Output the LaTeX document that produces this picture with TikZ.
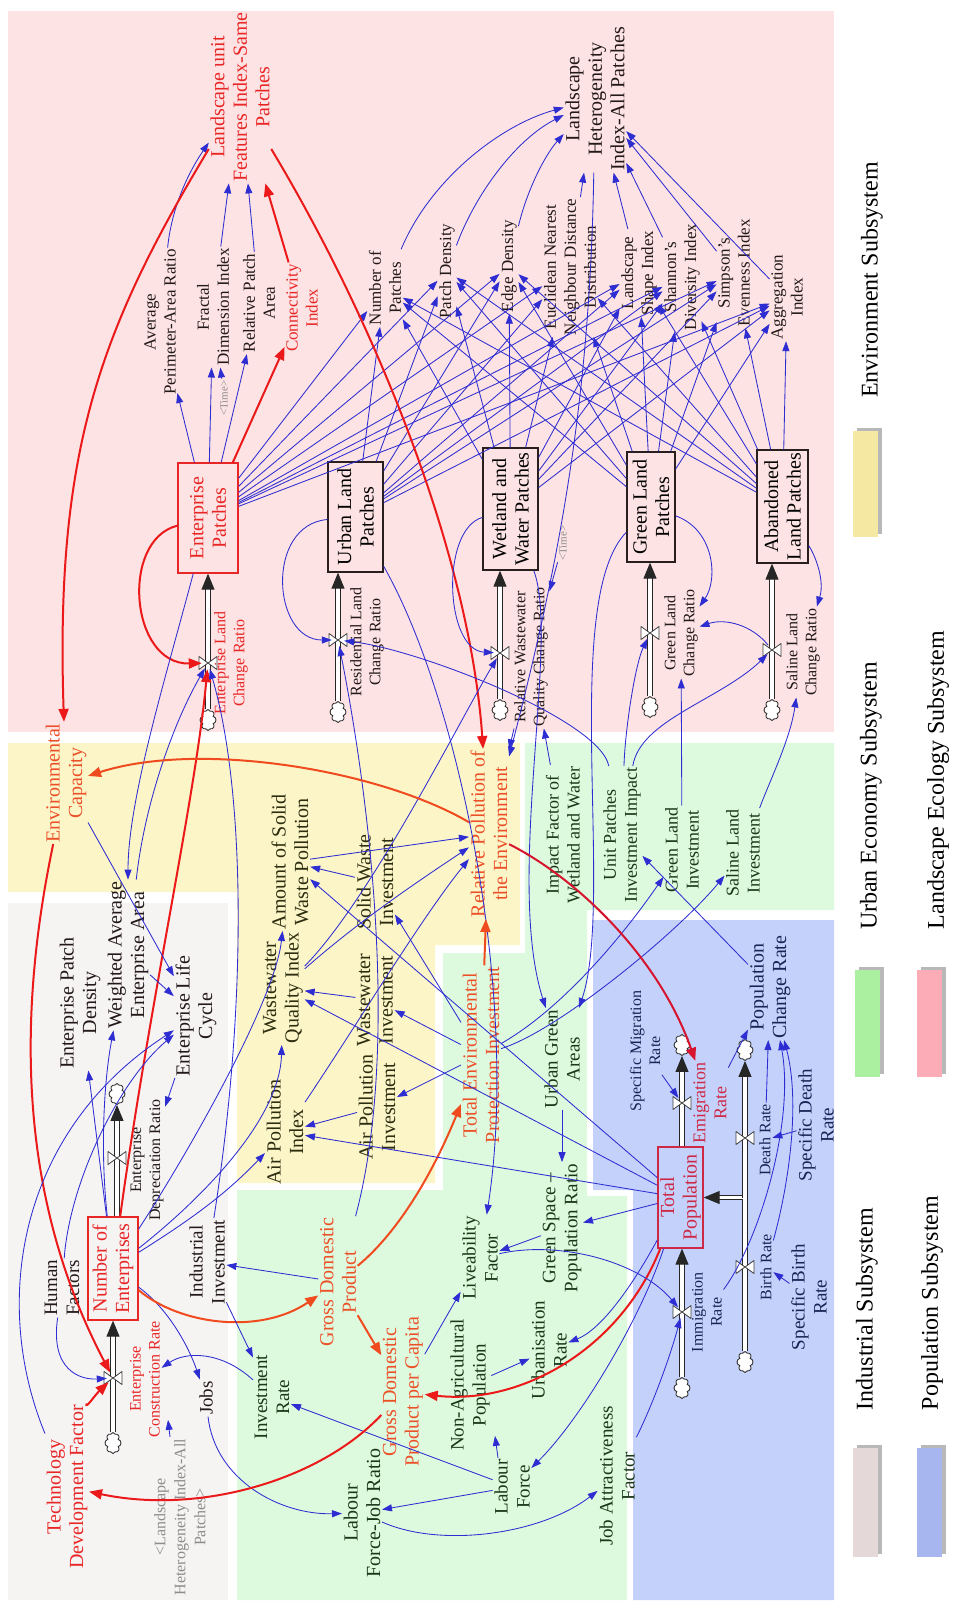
\documentclass[tikz,border=0pt]{standalone}
\usepackage{fontspec}
\setmainfont{Liberation Serif}
\usetikzlibrary{arrows.meta,shapes.symbols}

\definecolor{bgpink}{RGB}{253,227,227}
\definecolor{bgyellow}{RGB}{251,245,200}
\definecolor{bggreen}{RGB}{222,250,222}
\definecolor{bgblue}{RGB}{196,210,251}
\definecolor{bgind}{RGB}{246,243,243}
\definecolor{lgyellow}{RGB}{245,232,162}
\definecolor{lggreen}{RGB}{170,240,160}
\definecolor{lgpink}{RGB}{252,172,182}
\definecolor{lgind}{RGB}{228,216,216}
\definecolor{lgblue}{RGB}{168,182,240}
\definecolor{linkblue}{RGB}{45,45,210}
\definecolor{linkred}{RGB}{235,25,25}
\definecolor{linkorange}{RGB}{240,75,30}
\definecolor{linkcrimson}{RGB}{215,20,45}
\definecolor{txtred}{RGB}{232,38,38}
\definecolor{txtorange}{RGB}{236,80,40}
\definecolor{txtcrimson}{RGB}{205,40,70}
\definecolor{txtgray}{RGB}{140,140,140}
\definecolor{inkpink}{RGB}{35,25,25}
\definecolor{inkyellow}{RGB}{45,45,15}
\definecolor{inkgreen}{RGB}{25,55,25}
\definecolor{inkblue}{RGB}{25,35,85}
\definecolor{stockline}{RGB}{40,30,30}

\tikzset{
  lab/.style={rotate=90, align=center, inner sep=1.5pt, font=\fontsize{17}{20}\selectfont},
  labsm/.style={lab, font=\fontsize{16}{19}\selectfont},
  labmd/.style={lab, font=\fontsize{18}{21}\selectfont},
  labnn/.style={lab, font=\fontsize{19}{22}\selectfont},
  labbig/.style={lab, font=\fontsize{20}{22.5}\selectfont},
  shadowvar/.style={lab, text=txtgray, font=\fontsize{11}{13}\selectfont},
  stock/.style={rotate=90, align=center, draw=stockline, text=black, line width=1.3pt, inner sep=0pt, font=\fontsize{20}{22.5}\selectfont},
  lk/.style={draw=linkblue, line width=0.85pt, -{Triangle[length=10pt,width=7pt]}},
  rlk/.style={draw=linkred, line width=2pt, -{Triangle[length=13pt,width=10pt]}},
  olk/.style={draw=linkorange, line width=2pt, -{Triangle[length=13pt,width=10pt]}},
  clk/.style={draw=linkcrimson, line width=2pt, -{Triangle[length=13pt,width=10pt]}},
  pipein/.style={draw=black!85, line width=1pt, double=white, double distance=3.6pt, -{Triangle[length=16pt,width=13pt]}},
  valvept/.style={circle, inner sep=0pt, minimum size=12pt},
  vbow/.style={draw=black!75, fill=white, line width=0.8pt, line join=round},
  puff/.style={cloud, cloud puffs=8, cloud ignores aspect, draw=black!80, fill=white, line width=0.9pt, minimum width=16pt, minimum height=21pt, inner sep=0pt},
  legtxt/.style={rotate=90, font=\fontsize{24}{26}\selectfont, inner sep=0pt},
  legshadow/.style={fill=black!28},
}
\newcommand\drawvalve[1]{\draw[vbow] (#1.center) -- ++(-9,-6.5) -- ++(0,13) -- cycle (#1.center) -- ++(9,-6.5) -- ++(0,13) -- cycle;}

\begin{document}
\begin{tikzpicture}[x=1pt,y=-1pt]
\useasboundingbox (0,0) rectangle (954,1605);

% ---------- subsystem areas
\fill[bgpink] (8,11) rectangle (834,732);
\fill[bgyellow] (8,743) -- (520,743) -- (520,945) -- (435,945) -- (435,1183) -- (237,1183) -- (237,892) -- (8,892) -- cycle;
\fill[bgind] (8,903) rectangle (228,1600);
\fill[bggreen] (525,743) -- (834,743) -- (834,910) -- (587,910) -- (587,1196) -- (627,1196) -- (627,1600) -- (237,1600) -- (237,1190) -- (443,1190) -- (443,953) -- (525,953) -- cycle;
\fill[bgblue] (593,920) -- (834,920) -- (834,1600) -- (633,1600) -- (633,1190) -- (593,1190) -- cycle;

% ---------- legend
\fill[legshadow] (857,428) rectangle (882,534);
\fill[lgyellow] (853,431) rectangle (878,537);
\node[legtxt] (legE) at (872,280) {Environment Subsystem};
\fill[legshadow] (859,967) rectangle (884,1074);
\fill[lggreen] (855,970) rectangle (880,1077);
\node[legtxt] (legU) at (871,796) {Urban Economy Subsystem};
\fill[legshadow] (921,967) rectangle (946,1074);
\fill[lgpink] (917,970) rectangle (942,1077);
\node[legtxt] (legL) at (938,780) {Landscape Ecology Subsystem};
\fill[legshadow] (857,1445) rectangle (882,1554);
\fill[lgind] (853,1448) rectangle (878,1557);
\node[legtxt] (legI) at (867,1309) {Industrial Subsystem};
\fill[legshadow] (921,1445) rectangle (946,1554);
\fill[lgblue] (917,1448) rectangle (942,1557);
\node[legtxt] (legP) at (932,1303) {Population Subsystem};

% ---------- stocks
\node[stock, draw=txtred, text=txtred, minimum width=110pt, minimum height=60pt] (EP) at (208,518) {Enterprise\\Patches};
\node[stock, minimum width=110pt, minimum height=55pt] (ULP) at (355.5,517) {Urban Land\\Patches};
\node[stock, minimum width=122pt, minimum height=55pt] (WWP) at (510.5,509) {Wetland and\\Water Patches};
\node[stock, minimum width=110pt, minimum height=48pt] (GLP) at (651,507) {Green Land\\Patches};
\node[stock, minimum width=113pt, minimum height=51pt] (ALP) at (782.5,506.5) {Abandoned\\Land Patches};
\node[stock, draw=txtred, text=txtred, minimum width=103pt, minimum height=50pt] (NoE) at (113,1268.5) {Number of\\Enterprises};
\node[stock, draw=txtcrimson, text=txtcrimson, minimum width=101pt, minimum height=45pt] (TP) at (680.5,1197.5) {Total\\Population};

% ---------- valves and clouds
\node[valvept] (EPv) at (208,663) {};
\node[valvept] (ULv) at (338,640) {};
\node[valvept] (WWv) at (500,653) {};
\node[valvept] (GLv) at (650,633) {};
\node[valvept] (ALv) at (772,650) {};
\node[valvept] (NoEv) at (113,1378) {};
\node[valvept] (EDv) at (117,1158) {};
\node[valvept] (ERv) at (682,1103) {};
\node[valvept] (IRv) at (682,1312) {};
\node[valvept] (DRv) at (745,1138) {};
\node[valvept] (BRv) at (745,1267) {};

\node[puff] (EPcl) at (208,720) {};
\node[puff] (ULcl) at (338,712) {};
\node[puff] (WWcl) at (500,710) {};
\node[puff] (GLcl) at (650,707) {};
\node[puff] (ALcl) at (772,710) {};
\node[puff] (NoEcl) at (113,1443) {};
\node[puff] (EDcl) at (117,1094) {};
\node[puff] (ERcl) at (682,1045) {};
\node[puff] (IRcl) at (682,1388) {};
\node[puff] (DRcl) at (745,1050) {};
\node[puff] (BRcl) at (745,1362) {};

% ---------- flows
\draw[pipein] (EPcl) -- (EPv |- EP.west);
\draw[pipein] (ULcl) -- (ULv |- ULP.west);
\draw[pipein] (WWcl) -- (WWv |- WWP.west);
\draw[pipein] (GLcl) -- (GLv |- GLP.west);
\draw[pipein] (ALcl) -- (ALv |- ALP.west);
\draw[pipein] (NoEcl) -- (NoEv |- NoE.west);
\draw[pipein] (EDv |- NoE.east) -- (EDcl);
\draw[pipein] (ERv |- TP.east) -- (ERcl);
\draw[pipein] (IRcl) -- (IRv |- TP.west);
\draw[pipein] (BRcl) -- (BRv |- TP.south) -- (TP.south);
\draw[pipein] (DRv |- TP.south) -- (DRcl);
\foreach \v in {EPv,ULv,WWv,GLv,ALv,NoEv,EDv,ERv,IRv,DRv,BRv} {\drawvalve{\v}}

% ---------- landscape ecology variables
\node[labbig, text=txtred] (LUFI) at (240,97) {Landscape unit\\Features Index-Same\\Patches};
\node[lab, text=inkpink] (AvgPAR) at (160,322) {Average\\Perimeter-Area Ratio};
\node[lab, text=inkpink] (FDI) at (213,307) {Fractal\\Dimension Index};
\node[lab, text=inkpink] (RPA) at (259,303) {Relative Patch\\Area};
\node[lab, text=txtred] (CI) at (302,308) {Connectivity\\Index};
\node[shadowvar] (TimeA) at (224,398) {<Time>};
\node[labbig, text=inkpink] (LHI) at (595,99) {Landscape\\Heterogeneity\\Index-All Patches};
\node[lab, text=inkpink] (NP) at (385,288) {Number of\\Patches};
\node[lab, text=inkpink] (PD) at (447,271) {Patch Density};
\node[lab, text=inkpink] (ED) at (509,266) {Edge Density};
\node[lab, text=inkpink] (EN) at (570,267) {Euclidean Nearest\\Neighbour Distance\\Distribution};
\node[lab, text=inkpink] (LSI) at (639,273) {Landscape\\Shape Index};
\node[lab, text=inkpink] (SDI) at (682,277) {Shannon's\\Diversity Index};
\node[lab, text=inkpink] (SEI) at (734,273) {Simpson's\\Evenness Index};
\node[lab, text=inkpink] (AI) at (787,297) {Aggregation\\Index};
\node[labsm, text=txtred] (ELCR) at (231,663) {Enterprise Land\\Change Ratio};
\node[labsm, text=inkpink] (RLCR) at (367,642) {Residential Land\\Change Ratio};
\node[labsm, text=inkpink] (RWQCR) at (531,657) {Relative Wastewater\\Quality Change Ratio};
\node[labsm, text=inkpink] (GLCR) at (681,633) {Green Land\\Change Ratio};
\node[labsm, text=inkpink] (SLCR) at (803,652) {Saline Land\\Change Ratio};
\node[shadowvar] (TimeB) at (563,543) {<Time>};

% ---------- environment variables
\node[labbig, text=txtorange] (EC) at (66,783) {Environmental\\Capacity};
\node[labbig, text=txtorange] (RPE) at (489,834) {Relative Pollution of\\the Environment};
\node[labbig, text=inkyellow] (ASWP) at (290,862) {Amount of Solid\\Waste Pollution};
\node[labbig, text=inkyellow] (WQI) at (283,988) {Wastewater\\Quality Index};
\node[labbig, text=inkyellow] (APIdx) at (285,1132) {Air Pollution\\Index};
\node[labbig, text=inkyellow] (SWInv) at (375,882) {Solid Waste\\Investment};
\node[labbig, text=inkyellow] (WWInv) at (375,1000) {Wastewater\\Investment};
\node[labbig, text=inkyellow] (APInv) at (377,1107) {Air Pollution\\Investment};
\node[labbig, text=txtorange] (TEPI) at (481,1055) {Total Environmental\\Protection Investment};

% ---------- industrial variables
\node[labbig, text=inkpink] (EPD) at (80,1003) {Enterprise Patch\\Density};
\node[labbig, text=inkpink] (WAEA) at (128,955) {Weighted Average\\Enterprise Area};
\node[labbig, text=inkpink] (ELC) at (196,1016) {Enterprise Life\\Cycle};
\node[labsm, text=inkpink] (EDR) at (147,1160) {Enterprise\\Depreciation Ratio};
\node[labnn, text=inkpink] (HF) at (62,1288) {Human\\Factors};
\node[labsm, text=txtred] (ECR) at (145,1379) {Enterprise\\Construction Rate};
\node[labbig, text=txtred] (TDF) at (67,1487) {Technology\\Development Factor};
\node[labnn, text=inkpink] (Jobs) at (206,1398) {Jobs};
\node[lab, text=txtgray, font=\fontsize{16}{20}\selectfont] (LHIs) at (180,1517) {<Landscape\\Heterogeneity Index-All\\Patches>};
\node[labnn, text=inkpink] (II) at (207,1262) {Industrial\\Investment};

% ---------- urban economy variables
\node[labnn, text=inkgreen] (IvR) at (272,1397) {Investment\\Rate};
\node[labbig, text=txtorange] (GDP) at (338,1282) {Gross Domestic\\Product};
\node[labbig, text=txtorange] (GDPpc) at (403,1392) {Gross Domestic\\Product per Capita};
\node[labnn, text=inkgreen] (LivF) at (480,1258) {Liveability\\Factor};
\node[labnn, text=inkgreen] (NAP) at (470,1385) {Non-Agricultural\\Population};
\node[labnn, text=inkgreen] (UR) at (549,1350) {Urbanisation\\Rate};
\node[labnn, text=inkgreen] (LabF) at (512,1487) {Labour\\Force};
\node[labbig, text=inkgreen] (LFJR) at (362,1513) {Labour\\Force-Job Ratio};
\node[labnn, text=inkgreen] (JAF) at (617,1476) {Job Attractiveness\\Factor};
\node[labnn, text=inkgreen] (GSPR) at (562,1228) {Green Space --\\Population Ratio};
\node[labnn, text=inkgreen] (UGA) at (562,1059) {Urban Green\\Areas};
\node[labmd, text=inkgreen] (IFWW) at (563,835) {Impact Factor of\\Wetland and Water};
\node[labmd, text=inkgreen] (UPII) at (622,835) {Unit Patches\\Investment Impact};
\node[labmd, text=inkgreen] (GLI) at (682,850) {Green Land\\Investment};
\node[labmd, text=inkgreen] (SLI) at (743,853) {Saline Land\\Investment};

% ---------- population variables
\node[labsm, text=inkblue] (SMR) at (645,1051) {Specific Migration\\Rate};
\node[labmd, text=txtcrimson] (ER) at (710,1103) {Emigration\\Rate};
\node[labbig, text=inkblue] (PCR) at (770,987) {Population\\Change Rate};
\node[labsm, text=inkblue] (DR) at (765,1140) {Death Rate};
\node[labnn, text=inkblue] (SDR) at (816,1125) {Specific Death\\Rate};
\node[labsm, text=inkblue] (BR) at (766,1267) {Birth Rate};
\node[labnn, text=inkblue] (SBR) at (809,1297) {Specific Birth\\Rate};
\node[labsm, text=inkblue] (IR) at (707,1312) {Immigration\\Rate};

% ---------- patch indicators
\foreach \s in {EP,ULP,WWP,GLP,ALP}
  \foreach \t in {NP,PD,ED,EN,LSI,SDI,SEI,AI}
    \draw[lk] (\s) -- (\t);
\draw[lk] (EP) -- (AvgPAR);
\draw[lk] (EP) -- (FDI);
\draw[lk] (EP) -- (RPA);
\draw[rlk] (EP) -- (CI);
\draw[lk] (TimeA) -- (FDI);
\draw[lk] (AvgPAR) .. controls (172,205) and (190,170) .. (LUFI);
\draw[lk] (FDI) -- (LUFI);
\draw[lk] (RPA) -- (LUFI);
\draw[rlk] (CI) -- (LUFI);
\draw[rlk] (LUFI) .. controls (100,330) and (55,450) .. (EC);
\draw[rlk] (LUFI) .. controls (380,330) and (470,560) .. (RPE);
\draw[lk] (NP) .. controls (430,180) and (500,125) .. (LHI);
\draw[lk] (PD) .. controls (475,195) and (515,140) .. (LHI);
\draw[lk] (ED) .. controls (527,190) and (545,155) .. (LHI);
\draw[lk] (EN) -- (LHI);
\draw[lk] (LSI) -- (LHI);
\draw[lk] (SDI) -- (LHI);
\draw[lk] (SEI) -- (LHI);
\draw[lk] (AI) -- (LHI);
\draw[lk] (LHI) .. controls (590,400) and (560,560) .. (RPE);

% ---------- land change loops
\draw[rlk] (EP) .. controls (120,540) and (130,665) .. (EPv);
\draw[lk] (ULP) .. controls (265,525) and (272,640) .. (ULv);
\draw[lk] (WWP) .. controls (440,530) and (445,650) .. (WWv);
\draw[lk] (GLP) .. controls (715,530) and (718,580) .. (GLCR);
\draw[lk] (ALP) .. controls (815,555) and (825,580) .. (SLCR);
\draw[lk] (ALv) .. controls (752,625) and (725,618) .. (GLCR);
\draw[lk] (TimeB) -- (RWQCR);
\draw[lk] (RWQCR) -- (RPE);
\draw[lk] (IFWW) -- (RWQCR);
\draw[lk] (UPII) .. controls (600,720) and (420,650) .. (ULv);
\draw[lk] (UPII) .. controls (640,720) and (720,700) .. (ALv);
\draw[lk] (UPII) .. controls (625,730) and (635,665) .. (GLv);
\draw[lk] (GLI) -- (GLCR);
\draw[lk] (SLI) .. controls (770,780) and (790,740) .. (SLCR);
\draw[lk] (GLP) .. controls (560,600) and (615,900) .. (UGA);
\draw[lk] (WWP) .. controls (560,640) and (505,880) .. (UGA);
\draw[lk] (ULP) .. controls (460,700) and (520,1000) .. (LivF);
\draw[lk] (PCR) -- (UPII);

% ---------- enterprises
\draw[rlk] (NoE) .. controls (150,1000) and (195,800) .. (EPv);
\draw[lk] (EP) .. controls (165,680) and (128,800) .. (WAEA);
\draw[lk] (WAEA) .. controls (145,800) and (175,720) .. (EPv);
\draw[lk] (II) .. controls (248,1000) and (245,790) .. (EPv);
\draw[rlk] (EC) .. controls (10,1050) and (30,1220) .. (NoEv);
\draw[rlk] (TDF) .. controls (85,1410) and (95,1395) .. (NoEv);
\draw[lk] (HF) .. controls (50,1370) and (80,1380) .. (NoEv);
\draw[lk] (TDF) .. controls (-10,1300) and (20,1130) .. (ELC);
\draw[lk] (HF) .. controls (70,1180) and (120,1080) .. (ELC);
\draw[lk] (EC) -- (ELC);
\draw[lk] (WAEA) -- (ELC);
\draw[lk] (ELC) -- (EDR);
\draw[lk] (NoE) -- (EPD);
\draw[lk] (NoE) .. controls (100,1150) and (104,1080) .. (WAEA);
\draw[lk] (NoE) .. controls (170,1310) and (190,1350) .. (Jobs);
\draw[lk] (IvR) .. controls (220,1350) and (185,1352) .. (ECR);
\draw[lk] ([xshift=-10pt]LHIs.east) -- ++(-2,-17);
\draw[lk] (Jobs) .. controls (215,1480) and (280,1515) .. (LFJR);

% ---------- economy
\draw[olk] (NoE) .. controls (180,1325) and (260,1335) .. (GDP);
\draw[lk] (GDP) -- (II);
\draw[lk] (II) -- (IvR);
\draw[lk] (LabF) -- (IvR);
\draw[olk] (GDP) -- (GDPpc);
\draw[olk] (GDP) .. controls (395,1235) and (430,1180) .. (TEPI);
\draw[rlk] (GDPpc) .. controls (320,1480) and (200,1515) .. (TDF);
\draw[lk] (GDPpc) -- (LivF);
\draw[lk] (NAP) -- (UR);
\draw[lk] ([xshift=-14pt]LabF.east) -- ++(-3,-22);
\draw[lk] (LabF) -- (LFJR);
\draw[lk] (LFJR) .. controls (440,1548) and (540,1535) .. (JAF);
\draw[lk] (UGA) -- (GSPR);
\draw[lk] (GSPR) -- (LivF);
\draw[lk] (TP) -- (GSPR);
\draw[lk] (TP) .. controls (630,1290) and (600,1330) .. (UR);
\draw[lk] (TP) .. controls (640,1320) and (580,1420) .. (LabF);
\draw[rlk] (TP) .. controls (620,1350) and (520,1405) .. (GDPpc);
\draw[lk] (LivF) .. controls (560,1240) and (640,1262) .. (IRv);
\draw[lk] (JAF) .. controls (655,1400) and (672,1350) .. (IRv);
\draw[lk] (GDP) .. controls (400,1050) and (370,800) .. (ULv);

% ---------- pollution
\draw[olk] (TEPI) -- (RPE);
\draw[lk] (TEPI) -- (SWInv);
\draw[lk] (TEPI) -- (WWInv);
\draw[lk] (TEPI) -- (APInv);
\draw[lk] (TEPI) .. controls (560,1010) and (620,940) .. (GLI);
\draw[lk] (TEPI) .. controls (560,1030) and (680,930) .. (SLI);
\draw[lk] (SWInv) -- (ASWP);
\draw[lk] (WWInv) -- (WQI);
\draw[lk] (APInv) -- (APIdx);
\draw[lk] (TP) -- (ASWP);
\draw[lk] (TP) -- (WQI);
\draw[lk] (TP) -- (APIdx);
\draw[lk] (NoE) .. controls (190,1150) and (275,1000) .. (ASWP);
\draw[lk] (NoE) .. controls (200,1200) and (280,1120) .. (WQI);
\draw[lk] (NoE) .. controls (190,1220) and (225,1195) .. (APIdx);
\draw[lk] (ASWP) -- (RPE);
\draw[lk] (WQI) .. controls (360,920) and (420,880) .. (RPE);
\draw[lk] (APIdx) .. controls (360,1020) and (420,920) .. (RPE);
\draw[lk] (WQI) .. controls (370,900) and (460,720) .. (WWv);
\draw[olk] (RPE) .. controls (380,770) and (200,740) .. (EC);
\draw[clk] (RPE) .. controls (580,880) and (660,960) .. (ER);

% ---------- population
\draw[lk] (SMR) -- (ERv);
\draw[lk] (ER) -- (PCR);
\draw[lk] (DR) -- (PCR);
\draw[lk] (IR) .. controls (760,1240) and (795,1120) .. (PCR);
\draw[lk] (BR) .. controls (790,1180) and (800,1100) .. (PCR);
\draw[lk] (SDR) -- (DR);
\draw[lk] (SBR) -- (BR);
\end{tikzpicture}
\end{document}
